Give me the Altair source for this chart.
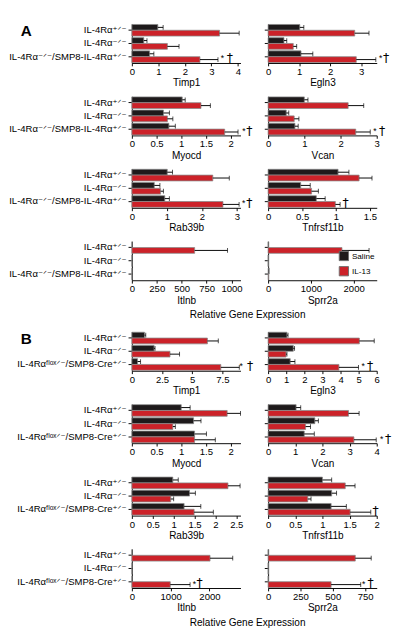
import altair as alt
import pandas as pd

FONT = "Liberation Sans, Arial, DejaVu Sans, sans-serif"

treatments = ["Saline", "IL-13"]
colors = ["#1e1a1b", "#cc2229"]

groups_A = ["IL-4Rα⁺ᐟ⁻", "IL-4Rα⁻ᐟ⁻", "IL-4Rα⁻ᐟ⁻/SMP8-IL-4Rα⁺ᐟ⁻"]
groups_B = ["IL-4Rα⁺ᐟ⁻", "IL-4Rα⁻ᐟ⁻", "IL-4Rαᶠˡᵒˣᐟ⁻/SMP8-Cre⁺ᐟ⁻"]

# panel order: left column, right column, row by row
layout_pairs = [("Timp1", "Egln3"), ("Myocd", "Vcan"), ("Rab39b", "Tnfrsf11b"), ("Itlnb", "Sprr2a")]

# ---------------- Section A ----------------
A_saline = {
    "Timp1": [0.98, 0.45, 0.67], "Egln3": [1.02, 0.51, 1.06],
    "Myocd": [1.02, 0.64, 0.75], "Vcan": [1.00, 0.50, 0.74],
    "Rab39b": [1.01, 0.64, 0.94], "Tnfrsf11b": [1.03, 0.48, 0.71],
    "Itlnb": [0, 0, 0], "Sprr2a": [0, 0, 25],
}
A_saline_hi = {
    "Timp1": [1.18, 0.57, 0.83], "Egln3": [1.15, 0.60, 1.44],
    "Myocd": [1.08, 0.76, 0.88], "Vcan": [1.10, 0.57, 0.83],
    "Rab39b": [1.16, 0.80, 1.07], "Tnfrsf11b": [1.19, 0.62, 0.84],
    "Itlnb": [0, 0, 0], "Sprr2a": [0, 0, 0],
}
A_il13 = {
    "Timp1": [3.31, 1.34, 2.57], "Egln3": [2.79, 0.81, 2.84],
    "Myocd": [1.40, 0.72, 1.88], "Vcan": [2.21, 0.72, 2.42],
    "Rab39b": [2.31, 0.82, 2.60], "Tnfrsf11b": [1.34, 0.64, 0.99],
    "Itlnb": [630, 0, 0], "Sprr2a": [1727, 0, 10],
}
A_il13_hi = {
    "Timp1": [4.05, 1.78, 3.25], "Egln3": [3.25, 0.92, 3.47],
    "Myocd": [1.59, 0.83, 2.15], "Vcan": [2.64, 0.85, 2.82],
    "Rab39b": [2.78, 0.90, 3.06], "Tnfrsf11b": [1.53, 0.74, 1.06],
    "Itlnb": [960, 0, 0], "Sprr2a": [2360, 0, 0],
}
A_star = {"Timp1": 3.42, "Egln3": 3.63, "Myocd": 2.27, "Vcan": 2.95, "Rab39b": 3.19}
A_dagger = {"Timp1": 3.70, "Egln3": 3.80, "Myocd": 2.38, "Vcan": 3.15, "Rab39b": 3.35, "Tnfrsf11b": 1.14}
A_xmax = {"Timp1": 4.1, "Egln3": 3.5, "Myocd": 2.2, "Vcan": 3.0, "Rab39b": 3.1,
          "Tnfrsf11b": 1.6, "Itlnb": 1090, "Sprr2a": 2540}
A_ticks = {"Timp1": [0, 1, 2, 3, 4], "Egln3": [0, 1, 2, 3], "Myocd": [0, 0.5, 1, 1.5, 2],
           "Vcan": [0, 1, 2, 3], "Rab39b": [0, 1, 2, 3], "Tnfrsf11b": [0, 0.5, 1, 1.5],
           "Itlnb": [0, 250, 500, 750, 1000], "Sprr2a": [0, 1000, 2000]}

# ---------------- Section B ----------------
B_saline = {
    "Timp1": [1.05, 1.84, 0.47], "Egln3": [1.04, 1.39, 1.22],
    "Myocd": [1.00, 1.25, 1.27], "Vcan": [1.03, 1.72, 1.33],
    "Rab39b": [0.98, 1.38, 1.25], "Tnfrsf11b": [1.00, 1.17, 1.16],
    "Itlnb": [0, 0, 0], "Sprr2a": [0, 0, 0],
}
B_saline_hi = {
    "Timp1": [1.15, 1.92, 0.72], "Egln3": [1.10, 1.46, 1.48],
    "Myocd": [1.18, 1.40, 1.51], "Vcan": [1.20, 1.85, 1.70],
    "Rab39b": [1.11, 1.52, 1.65], "Tnfrsf11b": [1.17, 1.26, 1.44],
    "Itlnb": [0, 0, 0], "Sprr2a": [0, 0, 0],
}
B_il13 = {
    "Timp1": [6.26, 3.16, 7.37], "Egln3": [5.04, 0.99, 3.91],
    "Myocd": [1.93, 0.83, 1.27], "Vcan": [2.96, 1.38, 3.16],
    "Rab39b": [2.30, 0.93, 1.49], "Tnfrsf11b": [1.42, 0.73, 1.51],
    "Itlnb": [2015, 0, 990], "Sprr2a": [674, 0, 487],
}
B_il13_hi = {
    "Timp1": [7.16, 3.95, 8.90], "Egln3": [5.86, 1.04, 4.99],
    "Myocd": [2.20, 0.88, 1.69], "Vcan": [3.35, 1.56, 3.98],
    "Rab39b": [2.59, 1.00, 1.95], "Tnfrsf11b": [1.60, 0.79, 1.89],
    "Itlnb": [2600, 0, 1500], "Sprr2a": [797, 0, 716],
}
B_star = {"Timp1": 9.05, "Egln3": 5.25, "Vcan": 4.18, "Itlnb": 1610, "Sprr2a": 739}
B_dagger = {"Timp1": 9.80, "Egln3": 5.63, "Vcan": 4.42, "Tnfrsf11b": 1.98, "Itlnb": 1745, "Sprr2a": 792}
B_xmax = {"Timp1": 9.0, "Egln3": 6.0, "Myocd": 2.2, "Vcan": 4.0, "Rab39b": 2.6,
          "Tnfrsf11b": 2.0, "Itlnb": 2800, "Sprr2a": 840}
B_ticks = {"Timp1": [0, 2.5, 5, 7.5], "Egln3": [0, 1, 2, 3, 4, 5, 6], "Myocd": [0, 0.5, 1, 1.5, 2],
           "Vcan": [0, 1, 2, 3, 4], "Rab39b": [0, 0.5, 1, 1.5, 2, 2.5], "Tnfrsf11b": [0, 0.5, 1, 1.5, 2],
           "Itlnb": [0, 1000, 2000], "Sprr2a": [0, 250, 500, 750]}

section_labels = ["A", "B"]
overall_title = "Relative Gene Expression"

W, H = 114, 41
EXTENT = 117
GAP = 29


def panel(gene, groups, S, Shi, I, Ihi, star, dagger, xmax, ticks, show_labels,
          legend=False, section_label=None, bottom_title=False):
    rows = []
    for g, s, sh, v, vh in zip(groups, S[gene], Shi[gene], I[gene], Ihi[gene]):
        rows.append({"group": g, "treatment": "Saline", "value": s, "hi": sh})
        rows.append({"group": g, "treatment": "IL-13", "value": v, "hi": vh})
    df = pd.DataFrame(rows)
    err = df[df["hi"] > df["value"]]

    xaxis = alt.Axis(values=ticks[gene], labelExpr="'' + datum.value", title=gene,
                     labelFlush=False, labelOverlap=False, grid=False)
    xsc = alt.Scale(domain=[0, xmax[gene]], nice=False, zero=True)
    if show_labels and section_label is not None:
        yaxis = alt.Axis(title=section_label, labels=True, grid=False, minExtent=EXTENT,
                         titleAngle=0, titleAlign="left", titleBaseline="middle",
                         titleX=-EXTENT, titleY=7, titleFontSize=16,
                         titleFontWeight="bold")
    elif show_labels:
        yaxis = alt.Axis(title=None, labels=True, grid=False, minExtent=EXTENT)
    else:
        yaxis = alt.Axis(title=None, labels=False, grid=False)
    yenc = alt.Y("group:N", sort=groups,
                 scale=alt.Scale(paddingInner=0.12, paddingOuter=0.04), axis=yaxis)
    yoff = alt.YOffset("treatment:N", sort=treatments,
                       scale=alt.Scale(paddingInner=0, paddingOuter=0))
    if legend:
        leg = alt.Legend(orient="bottom-right", offset=2, title=None,
                         symbolType="square", symbolSize=95, symbolStrokeColor="#707070",
                         symbolStrokeWidth=1, labelFontSize=8.5, labelFont=FONT,
                         rowPadding=1, labelOffset=3, padding=0)
    else:
        leg = None
    color = alt.Color("treatment:N", sort=treatments,
                      scale=alt.Scale(domain=treatments, range=colors), legend=leg)

    bars = alt.Chart(df).mark_bar(stroke="#8a8a8a", strokeWidth=0.8).encode(
        x=alt.X("value:Q", scale=xsc, axis=xaxis), y=yenc, yOffset=yoff, color=color)
    layers = [bars]
    if len(err):
        rules = alt.Chart(err).mark_rule(color="black", strokeWidth=1).encode(
            x=alt.X("value:Q", scale=xsc, axis=xaxis), x2="hi:Q", y=yenc, yOffset=yoff)
        caps = alt.Chart(err).mark_tick(color="black", thickness=1, size=5).encode(
            x=alt.X("hi:Q", scale=xsc, axis=xaxis), y=yenc, yOffset=yoff)
        layers += [rules, caps]
    if gene in star:
        sdf = pd.DataFrame({"group": [groups[2]], "treatment": ["IL-13"],
                            "x": [star[gene]], "sym": ["*"]})
        layers.append(alt.Chart(sdf).mark_text(fontSize=9, font=FONT, dy=-1, color="black").encode(
            x=alt.X("x:Q", scale=xsc, axis=xaxis), y=yenc, yOffset=yoff, text="sym:N"))
    if gene in dagger:
        ddf = pd.DataFrame({"group": [groups[2]], "treatment": ["IL-13"],
                            "x": [dagger[gene]], "sym": ["†"]})
        layers.append(alt.Chart(ddf).mark_text(fontSize=13, font="DejaVu Sans", dy=-1,
                                               color="black").encode(
            x=alt.X("x:Q", scale=xsc, axis=xaxis), y=yenc, yOffset=yoff, text="sym:N"))
    if bottom_title:
        tdf = pd.DataFrame({"t": [overall_title]})
        layers.append(alt.Chart(tdf).mark_text(fontSize=10.5, font=FONT, align="center",
                                                baseline="middle", color="black").encode(
            x=alt.value(W + GAP / 2 - 7), y=alt.value(H + 37), text="t:N"))
    return alt.layer(*layers).properties(width=W, height=H)


def section(groups, S, Shi, I, Ihi, star, dagger, xmax, ticks, label, with_legend):
    rows = []
    for i, (lg, rg) in enumerate(layout_pairs):
        left = panel(lg, groups, S, Shi, I, Ihi, star, dagger, xmax, ticks, True,
                     section_label=label if i == 0 else None,
                     bottom_title=(i == len(layout_pairs) - 1))
        right = panel(rg, groups, S, Shi, I, Ihi, star, dagger, xmax, ticks, False,
                      legend=(with_legend and rg == "Sprr2a"))
        rows.append(alt.hconcat(left, right, spacing=GAP, bounds="flush")
                    .resolve_scale(color="independent"))
    return alt.vconcat(*rows, spacing=8).resolve_scale(color="independent")


secA = section(groups_A, A_saline, A_saline_hi, A_il13, A_il13_hi, A_star, A_dagger,
               A_xmax, A_ticks, section_labels[0], True)
secB = section(groups_B, B_saline, B_saline_hi, B_il13, B_il13_hi, B_star, B_dagger,
               B_xmax, B_ticks, section_labels[1], False)

chart = (
    alt.vconcat(secA, secB, spacing=10)
    .resolve_scale(color="independent")
    .properties(padding=0)
    .configure_view(stroke=None)
    .configure_axis(labelFont=FONT, titleFont=FONT, labelColor="black", titleColor="black",
                    domainColor="black", tickColor="black", titleFontWeight="normal",
                    domainWidth=1, tickWidth=1)
    .configure_axisX(tickSize=3, labelPadding=1, titlePadding=2, labelFontSize=10,
                     titleFontSize=10.5)
    .configure_axisY(tickSize=4, labelPadding=2, labelFontSize=10)
)

chart.save("out.html", embed_options={"renderer": "svg", "actions": False})
